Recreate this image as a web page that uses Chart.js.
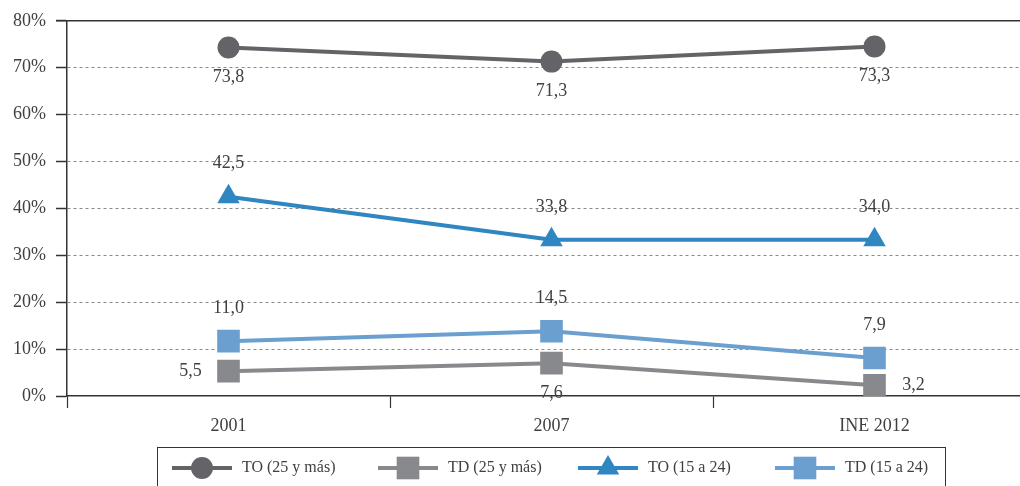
<!DOCTYPE html>
<html>
<head>
<meta charset="utf-8">
<script src="https://cdn.jsdelivr.net/npm/chart.js@4.4.1/dist/chart.umd.min.js"></script>
<style>
  html, body { margin: 0; padding: 0; background: #fff; overflow: hidden; }
  #chart { display: block; }
</style>
</head>
<body>
<canvas id="chart" width="1052" height="486"></canvas>
<script>
  const categories = ['2001', '2007', 'INE 2012'];
  const yTicks = [0, 10, 20, 30, 40, 50, 60, 70, 80];

  const to25 = [74.3, 71.3, 74.5];
  const td25 = [5.3, 7.0, 2.3];
  const to1524 = [42.5, 33.3, 33.3];
  const td1524 = [11.7, 13.8, 8.1];

  const to25Labels = ['73,8', '71,3', '73,3'];
  const td25Labels = ['5,5', '7,6', '3,2'];
  const to1524Labels = ['42,5', '33,8', '34,0'];
  const td1524Labels = ['11,0', '14,5', '7,9'];

  const serif = "'Liberation Serif', 'DejaVu Serif', serif";
  const textColor = '#404040';

  // where each data label sits relative to its point
  const td25Pos = ['left', 'below', 'right'];

  const datasets = [
    {
      label: 'TO (25 y más)', data: to25, labels: to25Labels, pos: ['below', 'below', 'below'],
      borderColor: '#646468', backgroundColor: '#646468',
      pointStyle: 'circle', pointRadius: 11
    },
    {
      label: 'TD (25 y más)', data: td25, labels: td25Labels, pos: td25Pos,
      borderColor: '#88898c', backgroundColor: '#88898c',
      pointStyle: 'rect', pointRadius: 16
    },
    {
      label: 'TO (15 a 24)', data: to1524, labels: to1524Labels, pos: ['above', 'above', 'above'],
      borderColor: '#2f86c1', backgroundColor: '#2f86c1',
      pointStyle: 'triangle', pointRadius: 13
    },
    {
      label: 'TD (15 a 24)', data: td1524, labels: td1524Labels, pos: ['above', 'above', 'above'],
      borderColor: '#6a9fd0', backgroundColor: '#6a9fd0',
      pointStyle: 'rect', pointRadius: 16
    }
  ];

  datasets.forEach(ds => {
    ds.borderWidth = 4;
    ds.pointBorderWidth = 0;
    ds.pointHoverRadius = ds.pointRadius;
    ds.tension = 0;
  });

  // value labels next to the points
  const valueLabels = {
    id: 'valueLabels',
    afterDatasetsDraw(chart) {
      const ctx = chart.ctx;
      ctx.save();
      ctx.font = '18px ' + serif;
      ctx.fillStyle = textColor;
      ctx.textAlign = 'center';
      ctx.textBaseline = 'middle';
      chart.data.datasets.forEach((ds, i) => {
        chart.getDatasetMeta(i).data.forEach((pt, j) => {
          let x = pt.x, y = pt.y;
          const p = ds.pos[j];
          if (p === 'below') y += 30;
          else if (p === 'above') y -= 33;
          else if (p === 'left') x -= 38;
          else if (p === 'right') x += 39;
          ctx.fillText(ds.labels[j], x, y);
        });
      });
      ctx.restore();
    }
  };

  // solid line at the top of the value axis
  const topLine = {
    id: 'topLine',
    beforeDatasetsDraw(chart) {
      const ctx = chart.ctx;
      const y = chart.scales.y.getPixelForValue(80);
      ctx.save();
      ctx.strokeStyle = '#333';
      ctx.lineWidth = 1.5;
      ctx.beginPath();
      ctx.moveTo(chart.chartArea.left - 11, y);
      ctx.lineTo(chart.width, y);
      ctx.stroke();
      ctx.restore();
    }
  };

  // legend box with line + marker samples
  const boxLegend = {
    id: 'boxLegend',
    afterDraw(chart) {
      const ctx = chart.ctx;
      const cy = 468;
      const starts = [172, 378, 578, 775];
      ctx.save();
      ctx.strokeStyle = '#333';
      ctx.lineWidth = 1;
      ctx.strokeRect(157.5, 447.5, 788, 50);
      ctx.font = '16px ' + serif;
      ctx.textBaseline = 'middle';
      ctx.textAlign = 'left';
      chart.data.datasets.forEach((ds, i) => {
        const x0 = starts[i];
        ctx.strokeStyle = ds.borderColor;
        ctx.lineWidth = 4;
        ctx.beginPath();
        ctx.moveTo(x0, cy);
        ctx.lineTo(x0 + 60, cy);
        ctx.stroke();
        ctx.fillStyle = ds.backgroundColor;
        Chart.helpers.drawPoint(ctx, {
          pointStyle: ds.pointStyle,
          radius: ds.pointRadius,
          rotation: 0,
          borderWidth: 0
        }, x0 + 30, cy);
        ctx.fillStyle = textColor;
        ctx.fillText(ds.label, x0 + 70, cy);
      });
      ctx.restore();
    }
  };

  new Chart(document.getElementById('chart'), {
    type: 'line',
    data: { labels: categories, datasets: datasets },
    options: {
      responsive: false,
      animation: false,
      events: [],
      layout: { padding: { top: 19, right: 5, bottom: 0, left: 0 } },
      plugins: {
        legend: { display: false },
        tooltip: { enabled: false }
      },
      scales: {
        x: {
          offset: true,
          afterFit(scale) { scale.height = 90; },
          grid: {
            offset: true,
            drawOnChartArea: false,
            drawTicks: true,
            tickLength: 12,
            tickColor: '#333',
            tickWidth: 1.2
          },
          border: { display: true, color: '#333', width: 1.5 },
          ticks: {
            color: textColor,
            font: { family: serif, size: 18 },
            padding: 7
          }
        },
        y: {
          min: 0,
          max: 80,
          afterFit(scale) { scale.width = 67; },
          afterBuildTicks(scale) { scale.ticks = yTicks.map(v => ({ value: v })); },
          grid: {
            color: ctx => (ctx.tick && (ctx.tick.value === 80 || ctx.tick.value === 0)) ? 'rgba(0,0,0,0)' : '#8a8a8a',
            lineWidth: 1,
            drawTicks: true,
            tickLength: 11,
            tickColor: '#333',
            tickWidth: 1.5,
            tickBorderDash: []
          },
          border: { display: true, color: '#333', width: 1.5, dash: [3, 3] },
          ticks: {
            color: textColor,
            font: { family: serif, size: 18 },
            padding: 10,
            callback: v => v + '%'
          }
        }
      }
    },
    plugins: [topLine, valueLabels, boxLegend]
  });
</script>
</body>
</html>
